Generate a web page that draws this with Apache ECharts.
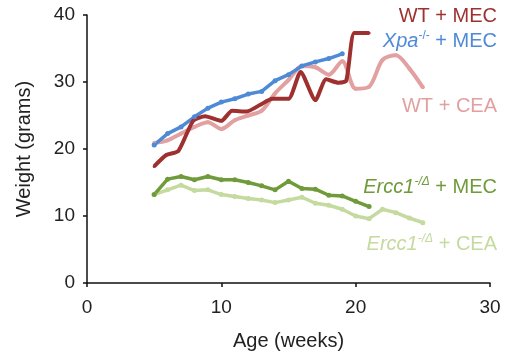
<!DOCTYPE html>
<html><head><meta charset="utf-8">
<script src="https://cdn.jsdelivr.net/npm/echarts@6/dist/echarts.min.js"></script>
<style>html,body{margin:0;padding:0;background:#fff}#c{width:505px;height:356px}</style>
</head><body><div id="c"></div>
<script>
// ---- data ----
const wtMecWeeks = [5, 5.9, 6.8, 7.9, 8.8, 10, 10.8, 11.9, 12.9, 13.8, 15, 15.9, 17, 17.8, 18.7, 19.3, 19.9, 21];
const wtMecValues = [17.4, 19.1, 19.7, 24.2, 24.9, 24.2, 25.7, 25.6, 26.6, 27.5, 27.5, 31.5, 27.3, 30.4, 29.9, 30.2, 37.3, 37.3];

const xpaMecWeeks = [5, 6, 7, 8, 9, 10, 11, 12, 13, 14, 15, 16, 17, 18, 19];
const xpaMecValues = [20.6, 22.3, 23.3, 24.8, 26.1, 27.0, 27.5, 28.2, 28.6, 30.2, 31.1, 32.4, 33.0, 33.5, 34.2];

const wtCeaWeeks = [5, 6, 7, 8, 9, 10, 11, 12, 13, 14, 15, 16, 17, 18, 19, 20, 21, 22, 23, 24, 25];
const wtCeaValues = [20.9, 21.3, 22.3, 23.3, 24.0, 23.0, 24.3, 25.0, 25.7, 28.3, 30.3, 32.4, 32.2, 31.1, 33.1, 29.0, 29.3, 33.3, 34.0, 32.0, 29.2];

const erccMecWeeks = [5, 6, 7, 8, 9, 10, 11, 12, 13, 14, 15, 16, 17, 18, 19, 20, 21];
const erccMecValues = [13.2, 15.5, 15.9, 15.4, 15.9, 15.4, 15.4, 15.0, 14.5, 13.9, 15.2, 14.1, 14.0, 13.1, 13.0, 12.2, 11.4];

const erccCeaWeeks = [5, 6, 7, 8, 9, 10, 11, 12, 13, 14, 15, 16, 17, 18, 19, 20, 21, 22, 23, 24, 25];
const erccCeaValues = [13.2, 13.9, 14.6, 13.8, 13.9, 13.2, 12.9, 12.6, 12.4, 12.0, 12.4, 12.8, 11.9, 11.6, 11.0, 10.0, 9.6, 11.0, 10.5, 9.7, 9.0];

const xTicks = [0, 10, 20, 30];
const yTicks = [0, 10, 20, 30, 40];

// ---- chart ----
const FONT = '"Liberation Sans", Arial, sans-serif';
const C = {
  wtMec: '#9F3030',
  xpa: '#4E8AD6',
  wtCea: '#E3A0A0',
  erMec: '#6F9B3A',
  erCea: '#C4DA9F'
};
function pairs(xs, ys) { return xs.map((x, i) => [x, ys[i]]); }
function line(name, xs, ys, color, width, sym, smooth) {
  return {
    name, type: 'line', data: pairs(xs, ys), smooth: smooth || false,
    symbol: 'circle', symbolSize: sym, showSymbol: sym > 0,
    lineStyle: { color, width }, itemStyle: { color },
    emphasis: { disabled: true }, animation: false
  };
}
function rich(color, italicSup) {
  return {
    i: { fontSize: 20, fontStyle: 'italic', fontFamily: FONT, fill: color },
    s: { fontSize: 12, fontFamily: FONT, fill: color, fontStyle: italicSup ? 'italic' : 'normal', verticalAlign: 'top', padding: [0, 0, 10, 0] },
    n: { fontSize: 20, fontFamily: FONT, fill: color }
  };
}
const chart = echarts.init(document.getElementById('c'), null, { renderer: 'canvas' });
chart.setOption({
  backgroundColor: '#fff',
  animation: false,
  grid: { left: 87, right: 15, top: 15, bottom: 70, containLabel: false },
  xAxis: {
    type: 'value', min: xTicks[0], max: xTicks[xTicks.length - 1], interval: 10,
    name: 'Age (weeks)', nameLocation: 'middle', nameGap: 48,
    nameTextStyle: { fontSize: 20, fontFamily: FONT, color: '#222' },
    axisLine: { show: true, lineStyle: { color: '#111', width: 1.5 } },
    axisTick: { show: true, length: 4, lineStyle: { color: '#111', width: 1.5 } },
    axisLabel: { fontSize: 19, fontFamily: FONT, color: '#222', margin: 15 },
    splitLine: { show: false }
  },
  yAxis: {
    type: 'value', min: yTicks[0], max: yTicks[yTicks.length - 1], interval: 10,
    name: 'Weight (grams)', nameLocation: 'middle', nameGap: 53,
    nameTextStyle: { fontSize: 20, fontFamily: FONT, color: '#222' },
    axisLine: { show: true, lineStyle: { color: '#111', width: 1.5 } },
    axisTick: { show: true, length: 4, lineStyle: { color: '#111', width: 1.5 } },
    axisLabel: { fontSize: 19, fontFamily: FONT, color: '#222', margin: 12 },
    splitLine: { show: false }
  },
  series: [
    line('WT + CEA', wtCeaWeeks, wtCeaValues, C.wtCea, 4, 4, 0.3),
    line('Ercc1 + CEA', erccCeaWeeks, erccCeaValues, C.erCea, 3.5, 5, false),
    line('Xpa + MEC', xpaMecWeeks, xpaMecValues, C.xpa, 3.5, 5, false),
    line('Ercc1 + MEC', erccMecWeeks, erccMecValues, C.erMec, 3.5, 5, false),
    line('WT + MEC', wtMecWeeks, wtMecValues, C.wtMec, 4, 3, 0.2)
  ],
  graphic: [
    { type: 'text', right: 8, top: 6, style: { text: 'WT + MEC', fill: C.wtMec, font: '20px ' + FONT } },
    { type: 'text', right: 8, top: 30, style: { text: '{i|Xpa}{s|-/-}{n| + MEC}', rich: rich(C.xpa, false) } },
    { type: 'text', right: 8, top: 96, style: { text: 'WT + CEA', fill: C.wtCea, font: '20px ' + FONT } },
    { type: 'text', right: 8, top: 176, style: { text: '{i|Ercc1}{s|-/Δ}{n| + MEC}', rich: rich(C.erMec, true) } },
    { type: 'text', right: 8, top: 233, style: { text: '{i|Ercc1}{s|-/Δ}{n| + CEA}', rich: rich(C.erCea, true) } }
  ]
});
</script></body></html>
